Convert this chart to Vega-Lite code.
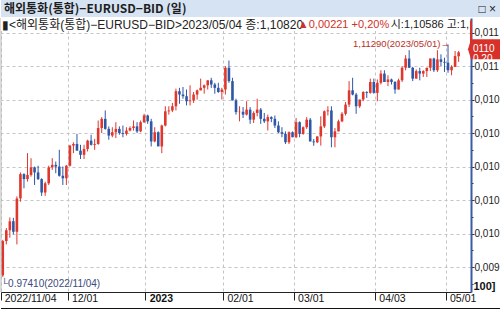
{
"$schema": "https://vega.github.io/schema/vega-lite/v6.json",
"padding": 0,
"background": "white",
"spacing": 0,
"config": {"view": {"stroke": null}, "concat": {"spacing": 0}, "axis": {"labelOverlap": false}, "font": "Liberation Sans"},
"vconcat": [
{"width": 500, "height": 17, "data": {"values": [{}]},
 "layer": [
  {"mark": {"type": "rect", "color": "#d6e3f2"},
   "encoding": {"x": {"datum": 0, "type": "quantitative", "scale": {"domain": [0, 1], "nice": false, "zero": false}, "axis": null}, "x2": {"datum": 1},
    "y": {"datum": 0, "type": "quantitative", "scale": {"domain": [0, 1], "nice": false, "zero": false}, "axis": null}, "y2": {"datum": 1}}},
  {"mark": {"type": "text", "align": "left", "baseline": "middle", "dx": 3, "font": "Noto Sans CJK KR", "fontSize": 12, "fontWeight": "bold", "color": "#1e1e1e"},
   "encoding": {"x": {"datum": 0, "type": "quantitative"}, "y": {"datum": 0.5, "type": "quantitative"}, "text": {"value": "해외통화(통합)−EURUSD−BID (일)"}}},
  {"mark": {"type": "text", "align": "right", "baseline": "middle", "dx": -5, "fontSize": 12, "color": "#222"},
   "encoding": {"x": {"datum": 1, "type": "quantitative"}, "y": {"datum": 0.5, "type": "quantitative"}, "text": {"value": "□ ×"}}}
 ]},
{
"width": 470, "height": 274,
"data": {"values": [
{"d":"2022-11-04","o":0.9750,"h":0.9962,"l":0.9741,"c":0.9955},
{"d":"2022-11-07","o":0.9955,"h":1.0033,"l":0.9935,"c":1.0020},
{"d":"2022-11-08","o":1.0020,"h":1.0096,"l":0.9975,"c":1.0073},
{"d":"2022-11-09","o":1.0073,"h":1.0094,"l":0.9995,"c":1.0010},
{"d":"2022-11-10","o":1.0010,"h":1.0222,"l":0.9935,"c":1.0210},
{"d":"2022-11-11","o":1.0210,"h":1.0365,"l":1.0190,"c":1.0355},
{"d":"2022-11-14","o":1.0355,"h":1.0360,"l":1.0270,"c":1.0325},
{"d":"2022-11-15","o":1.0325,"h":1.0480,"l":1.0310,"c":1.0350},
{"d":"2022-11-16","o":1.0350,"h":1.0450,"l":1.0340,"c":1.0395},
{"d":"2022-11-17","o":1.0395,"h":1.0400,"l":1.0290,"c":1.0365},
{"d":"2022-11-18","o":1.0365,"h":1.0405,"l":1.0320,"c":1.0325},
{"d":"2022-11-21","o":1.0325,"h":1.0330,"l":1.0225,"c":1.0245},
{"d":"2022-11-22","o":1.0245,"h":1.0310,"l":1.0225,"c":1.0300},
{"d":"2022-11-23","o":1.0300,"h":1.0405,"l":1.0290,"c":1.0395},
{"d":"2022-11-24","o":1.0395,"h":1.0450,"l":1.0380,"c":1.0410},
{"d":"2022-11-25","o":1.0410,"h":1.0430,"l":1.0360,"c":1.0400},
{"d":"2022-11-28","o":1.0400,"h":1.0500,"l":1.0340,"c":1.0345},
{"d":"2022-11-29","o":1.0345,"h":1.0400,"l":1.0290,"c":1.0330},
{"d":"2022-11-30","o":1.0330,"h":1.0410,"l":1.0290,"c":1.0405},
{"d":"2022-12-01","o":1.0405,"h":1.0530,"l":1.0400,"c":1.0525},
{"d":"2022-12-02","o":1.0525,"h":1.0545,"l":1.0480,"c":1.0535},
{"d":"2022-12-05","o":1.0535,"h":1.0595,"l":1.0495,"c":1.0495},
{"d":"2022-12-06","o":1.0495,"h":1.0530,"l":1.0445,"c":1.0470},
{"d":"2022-12-07","o":1.0470,"h":1.0530,"l":1.0445,"c":1.0505},
{"d":"2022-12-08","o":1.0505,"h":1.0560,"l":1.0490,"c":1.0555},
{"d":"2022-12-09","o":1.0555,"h":1.0590,"l":1.0525,"c":1.0530},
{"d":"2022-12-12","o":1.0530,"h":1.0565,"l":1.0500,"c":1.0535},
{"d":"2022-12-13","o":1.0535,"h":1.0675,"l":1.0530,"c":1.0630},
{"d":"2022-12-14","o":1.0630,"h":1.0695,"l":1.0600,"c":1.0685},
{"d":"2022-12-15","o":1.0685,"h":1.0735,"l":1.0620,"c":1.0625},
{"d":"2022-12-16","o":1.0625,"h":1.0640,"l":1.0560,"c":1.0585},
{"d":"2022-12-19","o":1.0585,"h":1.0635,"l":1.0575,"c":1.0605},
{"d":"2022-12-20","o":1.0605,"h":1.0665,"l":1.0570,"c":1.0625},
{"d":"2022-12-21","o":1.0625,"h":1.0640,"l":1.0590,"c":1.0600},
{"d":"2022-12-22","o":1.0600,"h":1.0645,"l":1.0575,"c":1.0595},
{"d":"2022-12-23","o":1.0595,"h":1.0635,"l":1.0585,"c":1.0615},
{"d":"2022-12-26","o":1.0615,"h":1.0640,"l":1.0610,"c":1.0630},
{"d":"2022-12-27","o":1.0630,"h":1.0675,"l":1.0615,"c":1.0640},
{"d":"2022-12-28","o":1.0640,"h":1.0665,"l":1.0600,"c":1.0610},
{"d":"2022-12-29","o":1.0610,"h":1.0675,"l":1.0605,"c":1.0665},
{"d":"2022-12-30","o":1.0665,"h":1.0715,"l":1.0660,"c":1.0705},
{"d":"2023-01-02","o":1.0705,"h":1.0710,"l":1.0655,"c":1.0670},
{"d":"2023-01-03","o":1.0670,"h":1.0685,"l":1.0520,"c":1.0550},
{"d":"2023-01-04","o":1.0550,"h":1.0635,"l":1.0545,"c":1.0605},
{"d":"2023-01-05","o":1.0605,"h":1.0610,"l":1.0525,"c":1.0520},
{"d":"2023-01-06","o":1.0520,"h":1.0650,"l":1.0480,"c":1.0645},
{"d":"2023-01-09","o":1.0645,"h":1.0760,"l":1.0640,"c":1.0730},
{"d":"2023-01-10","o":1.0730,"h":1.0760,"l":1.0710,"c":1.0735},
{"d":"2023-01-11","o":1.0735,"h":1.0780,"l":1.0725,"c":1.0760},
{"d":"2023-01-12","o":1.0760,"h":1.0865,"l":1.0735,"c":1.0850},
{"d":"2023-01-13","o":1.0850,"h":1.0870,"l":1.0775,"c":1.0830},
{"d":"2023-01-16","o":1.0830,"h":1.0875,"l":1.0805,"c":1.0820},
{"d":"2023-01-17","o":1.0820,"h":1.0860,"l":1.0765,"c":1.0790},
{"d":"2023-01-18","o":1.0790,"h":1.0885,"l":1.0765,"c":1.0795},
{"d":"2023-01-19","o":1.0795,"h":1.0845,"l":1.0780,"c":1.0830},
{"d":"2023-01-20","o":1.0830,"h":1.0860,"l":1.0800,"c":1.0855},
{"d":"2023-01-23","o":1.0855,"h":1.0925,"l":1.0855,"c":1.0870},
{"d":"2023-01-24","o":1.0870,"h":1.0890,"l":1.0835,"c":1.0885},
{"d":"2023-01-25","o":1.0885,"h":1.0915,"l":1.0860,"c":1.0915},
{"d":"2023-01-26","o":1.0915,"h":1.0930,"l":1.0870,"c":1.0890},
{"d":"2023-01-27","o":1.0890,"h":1.0900,"l":1.0835,"c":1.0870},
{"d":"2023-01-30","o":1.0870,"h":1.0900,"l":1.0840,"c":1.0845},
{"d":"2023-01-31","o":1.0845,"h":1.0870,"l":1.0800,"c":1.0860},
{"d":"2023-02-01","o":1.0860,"h":1.1000,"l":1.0830,"c":1.0990},
{"d":"2023-02-02","o":1.0990,"h":1.1033,"l":1.0900,"c":1.0910},
{"d":"2023-02-03","o":1.0910,"h":1.0930,"l":1.0795,"c":1.0795},
{"d":"2023-02-06","o":1.0795,"h":1.0805,"l":1.0710,"c":1.0725},
{"d":"2023-02-07","o":1.0725,"h":1.0760,"l":1.0670,"c":1.0727},
{"d":"2023-02-08","o":1.0727,"h":1.0755,"l":1.0690,"c":1.0710},
{"d":"2023-02-09","o":1.0710,"h":1.0790,"l":1.0705,"c":1.0740},
{"d":"2023-02-10","o":1.0740,"h":1.0755,"l":1.0655,"c":1.0680},
{"d":"2023-02-13","o":1.0680,"h":1.0730,"l":1.0660,"c":1.0720},
{"d":"2023-02-14","o":1.0720,"h":1.0805,"l":1.0700,"c":1.0740},
{"d":"2023-02-15","o":1.0740,"h":1.0750,"l":1.0655,"c":1.0685},
{"d":"2023-02-16","o":1.0685,"h":1.0720,"l":1.0660,"c":1.0670},
{"d":"2023-02-17","o":1.0670,"h":1.0710,"l":1.0615,"c":1.0695},
{"d":"2023-02-20","o":1.0695,"h":1.0700,"l":1.0665,"c":1.0685},
{"d":"2023-02-21","o":1.0685,"h":1.0705,"l":1.0630,"c":1.0645},
{"d":"2023-02-22","o":1.0645,"h":1.0670,"l":1.0600,"c":1.0605},
{"d":"2023-02-23","o":1.0605,"h":1.0635,"l":1.0575,"c":1.0595},
{"d":"2023-02-24","o":1.0595,"h":1.0610,"l":1.0535,"c":1.0545},
{"d":"2023-02-27","o":1.0545,"h":1.0610,"l":1.0535,"c":1.0605},
{"d":"2023-02-28","o":1.0605,"h":1.0610,"l":1.0575,"c":1.0575},
{"d":"2023-03-01","o":1.0575,"h":1.0690,"l":1.0570,"c":1.0665},
{"d":"2023-03-02","o":1.0665,"h":1.0670,"l":1.0575,"c":1.0595},
{"d":"2023-03-03","o":1.0595,"h":1.0640,"l":1.0590,"c":1.0635},
{"d":"2023-03-06","o":1.0635,"h":1.0695,"l":1.0625,"c":1.0680},
{"d":"2023-03-07","o":1.0680,"h":1.0690,"l":1.0550,"c":1.0550},
{"d":"2023-03-08","o":1.0550,"h":1.0565,"l":1.0524,"c":1.0545},
{"d":"2023-03-09","o":1.0545,"h":1.0580,"l":1.0540,"c":1.0580},
{"d":"2023-03-10","o":1.0580,"h":1.0700,"l":1.0525,"c":1.0640},
{"d":"2023-03-13","o":1.0640,"h":1.0735,"l":1.0630,"c":1.0730},
{"d":"2023-03-14","o":1.0730,"h":1.0760,"l":1.0705,"c":1.0735},
{"d":"2023-03-15","o":1.0735,"h":1.0760,"l":1.0515,"c":1.0575},
{"d":"2023-03-16","o":1.0575,"h":1.0630,"l":1.0515,"c":1.0610},
{"d":"2023-03-17","o":1.0610,"h":1.0680,"l":1.0610,"c":1.0670},
{"d":"2023-03-20","o":1.0670,"h":1.0725,"l":1.0665,"c":1.0715},
{"d":"2023-03-21","o":1.0715,"h":1.0785,"l":1.0705,"c":1.0770},
{"d":"2023-03-22","o":1.0770,"h":1.0910,"l":1.0755,"c":1.0855},
{"d":"2023-03-23","o":1.0855,"h":1.0930,"l":1.0825,"c":1.0830},
{"d":"2023-03-24","o":1.0830,"h":1.0840,"l":1.0715,"c":1.0760},
{"d":"2023-03-27","o":1.0760,"h":1.0800,"l":1.0750,"c":1.0800},
{"d":"2023-03-28","o":1.0800,"h":1.0850,"l":1.0790,"c":1.0845},
{"d":"2023-03-29","o":1.0845,"h":1.0850,"l":1.0810,"c":1.0840},
{"d":"2023-03-30","o":1.0840,"h":1.0925,"l":1.0835,"c":1.0905},
{"d":"2023-03-31","o":1.0905,"h":1.0925,"l":1.0835,"c":1.0840},
{"d":"2023-04-03","o":1.0840,"h":1.0920,"l":1.0790,"c":1.0900},
{"d":"2023-04-04","o":1.0900,"h":1.0975,"l":1.0890,"c":1.0955},
{"d":"2023-04-05","o":1.0955,"h":1.0975,"l":1.0905,"c":1.0905},
{"d":"2023-04-06","o":1.0905,"h":1.0945,"l":1.0880,"c":1.0920},
{"d":"2023-04-07","o":1.0920,"h":1.0925,"l":1.0890,"c":1.0905},
{"d":"2023-04-10","o":1.0905,"h":1.0910,"l":1.0835,"c":1.0860},
{"d":"2023-04-11","o":1.0860,"h":1.0925,"l":1.0860,"c":1.0915},
{"d":"2023-04-12","o":1.0915,"h":1.1000,"l":1.0905,"c":1.0990},
{"d":"2023-04-13","o":1.0990,"h":1.1065,"l":1.0975,"c":1.1045},
{"d":"2023-04-14","o":1.1045,"h":1.1095,"l":1.0990,"c":1.0990},
{"d":"2023-04-17","o":1.0990,"h":1.0995,"l":1.0910,"c":1.0925},
{"d":"2023-04-18","o":1.0925,"h":1.0980,"l":1.0925,"c":1.0970},
{"d":"2023-04-19","o":1.0970,"h":1.0990,"l":1.0915,"c":1.0955},
{"d":"2023-04-20","o":1.0955,"h":1.0975,"l":1.0935,"c":1.0970},
{"d":"2023-04-21","o":1.0970,"h":1.0990,"l":1.0935,"c":1.0990},
{"d":"2023-04-24","o":1.0990,"h":1.1045,"l":1.0970,"c":1.1045},
{"d":"2023-04-25","o":1.1045,"h":1.1050,"l":1.0965,"c":1.0975},
{"d":"2023-04-26","o":1.0975,"h":1.1095,"l":1.0965,"c":1.1040},
{"d":"2023-04-27","o":1.1040,"h":1.1070,"l":1.1000,"c":1.1025},
{"d":"2023-04-28","o":1.1025,"h":1.1050,"l":1.0965,"c":1.1020},
{"d":"2023-05-01","o":1.1020,"h":1.1129,"l":1.0960,"c":1.0975},
{"d":"2023-05-02","o":1.0975,"h":1.1005,"l":1.0945,"c":1.0995},
{"d":"2023-05-03","o":1.0995,"h":1.1090,"l":1.0995,"c":1.10599},
{"d":"2023-05-04","o":1.10586,"h":1.1090,"l":1.1025,"c":1.1082}
]},
"encoding": {
 "x": {"field": "d", "type": "ordinal",
  "scale": {"domain": {"unionWith": ["2023-05-05", "2023-05-08", "2023-05-09"]}, "paddingInner": 0, "paddingOuter": 0},
  "axis": {"title": null, "values": ["2022-11-04", "2022-12-01", "2023-01-02", "2023-02-01", "2023-03-01", "2023-04-03", "2023-05-01"],
   "bandPosition": 0,
   "labelExpr": "datum.value == '2022-11-04' ? '2022/11/04' : datum.value == '2023-01-02' ? '2023' : replace(substring(datum.value, 5), '-', '/')",
   "labelAngle": 0, "labelAlign": "left", "labelBaseline": "top", "labelPadding": -7, "labelOffset": 2,
   "labelFontSize": 10.5, "labelColor": "#111", "labelOverlap": false, "labelBound": false, "labelFlush": false,
   "labelFontWeight": {"condition": {"test": "datum.value == '2023-01-02'", "value": "bold"}, "value": "normal"},
   "tickSize": 8, "tickColor": "#222", "domainColor": "#222",
   "grid": true, "gridColor": "#c4c4c4", "gridDash": [3, 3]}}
},
"layer": [
 {"mark": {"type": "rule", "strokeWidth": 1},
  "encoding": {
   "y": {"field": "l", "type": "quantitative", "scale": {"domain": [0.9651, 1.1287], "nice": false, "zero": false},
    "axis": {"orient": "right", "title": "100]", "titleAngle": 0, "titleAlign": "left", "titleBaseline": "bottom", "titleX": 2, "titleY": 273,
     "titleFontSize": 11, "titleFontWeight": "bold", "titleColor": "#111", "titleFont": "Liberation Sans",
     "tickCount": 60,
     "values": [0.97, 0.98, 0.99, 1, 1.01, 1.02, 1.03, 1.04, 1.05, 1.06, 1.07, 1.08, 1.09, 1.1, 1.11, 1.12],
     "labelExpr": "round(datum.value * 100) % 2 == 1 ? '' : datum.value >= 1.099 ? '0,011' : datum.value >= 0.999 ? '0,010' : '0,009'",
     "labelFontSize": 10, "labelPadding": 0, "labelBaseline": "middle", "labelOverlap": false, "labelSeparation": -100, "labelBound": false, "labelFlush": false,
     "labelColor": "#222",
     "tickSize": {"condition": {"test": "round(datum.value * 100) % 2 == 1", "value": 2}, "value": 3},
     "tickColor": "#333",
     "domainColor": "#3a5ca5", "domainWidth": 2,
     "grid": true, "gridColor": "#c4c4c4", "gridDash": [3, 3],
     "gridOpacity": {"condition": {"test": "round(datum.value * 100) % 2 == 1", "value": 0}, "value": 1}}},
   "y2": {"field": "h"},
   "color": {"condition": {"test": "datum.c >= datum.o", "value": "#e0372c"}, "value": "#2d57a7"}}},
 {"mark": {"type": "bar", "width": 2.6},
  "encoding": {
   "y": {"field": "o", "type": "quantitative"},
   "y2": {"field": "c"},
   "color": {"condition": {"test": "datum.c >= datum.o", "value": "#e0372c"}, "value": "#2d57a7"}}},
 {"data": {"values": [{}]},
  "mark": {"type": "rule", "color": "#b4b4b4", "strokeWidth": 1},
  "encoding": {"x": {"datum": "2022-11-04", "type": "ordinal", "bandPosition": 0}, "y": {"datum": 0.9651, "type": "quantitative"}, "y2": {"datum": 1.1287}}},
 {"data": {"values": [{"d": "2023-05-01", "p": 1.1129, "t": "1,11290(2023/05/01)→"}]},
  "mark": {"type": "text", "align": "right", "baseline": "middle", "dx": 2, "fontSize": 9.5, "color": "#b83228"},
  "encoding": {"y": {"field": "p", "type": "quantitative"}, "text": {"field": "t"}}},
 {"data": {"values": [{"d": "2022-11-04", "p": 0.9741, "t": "└0.97410(2022/11/04)"}]},
  "mark": {"type": "text", "align": "left", "baseline": "top", "dy": 2, "fontSize": 10, "color": "#3b4a7c"},
  "encoding": {"x": {"field": "d", "type": "ordinal", "bandPosition": 0}, "y": {"field": "p", "type": "quantitative"}, "text": {"field": "t"}}},
 {"data": {"values": [{}]},
  "mark": {"type": "rect", "color": "white"},
  "encoding": {"x": {"datum": "2022-11-04", "type": "ordinal", "bandPosition": 0}, "x2": {"datum": "2023-05-09", "bandPosition": 0.5}, "y": {"datum": 1.1287, "type": "quantitative"}, "y2": {"datum": 1.1209}}},
 {"data": {"values": [{}]},
  "mark": {"type": "rule", "color": "#d8312a", "strokeWidth": 2},
  "encoding": {"x": {"datum": "2023-05-09", "type": "ordinal", "bandPosition": 1}, "y": {"datum": 1.1082, "type": "quantitative"}, "y2": {"datum": 1.1272}}},
 {"data": {"values": [{}]},
  "mark": {"type": "point", "shape": "M-0.2,-0.2L0,-0.867L2,-0.867L2,0.467L0,0.467Z", "size": 900, "filled": true, "opacity": 1, "color": "#d8312a"},
  "encoding": {"x": {"datum": "2023-05-09", "type": "ordinal", "bandPosition": 1}, "y": {"datum": 1.1082, "type": "quantitative"}}},
 {"data": {"values": [{}]},
  "mark": {"type": "text", "align": "left", "baseline": "middle", "dx": 2, "dy": -3, "fontSize": 10, "lineHeight": 10, "color": "white"},
  "encoding": {"x": {"datum": "2023-05-09", "type": "ordinal", "bandPosition": 1}, "y": {"datum": 1.1082, "type": "quantitative"}, "text": {"value": ["0110", "0,20"]}}},
 {"data": {"values": [{}]},
  "mark": {"type": "text", "align": "left", "baseline": "middle", "dx": 1, "fontSize": 12, "font": "Liberation Sans, Noto Sans CJK KR", "color": "#222"},
  "encoding": {"x": {"datum": "2022-11-04", "type": "ordinal", "bandPosition": 0}, "y": {"datum": 1.1248, "type": "quantitative"}, "text": {"value": "▮<해외통화(통합)−EURUSD−BID>2023/05/04 종:1,10820"}}},
 {"data": {"values": [{}]},
  "mark": {"type": "text", "align": "left", "baseline": "middle", "dx": 0, "fontSize": 11, "font": "Liberation Sans, Noto Sans CJK KR", "color": "#d0302a"},
  "encoding": {"x": {"datum": "2023-03-02", "type": "ordinal", "bandPosition": 0}, "y": {"datum": 1.1248, "type": "quantitative"}, "text": {"value": "▲0,00221 +0,20%"}}},
 {"data": {"values": [{}]},
  "mark": {"type": "text", "align": "left", "baseline": "middle", "dx": 1, "fontSize": 11, "font": "Liberation Sans, Noto Sans CJK KR", "color": "#222"},
  "encoding": {"x": {"datum": "2023-04-07", "type": "ordinal", "bandPosition": 0}, "y": {"datum": 1.1248, "type": "quantitative"}, "text": {"value": "시:1,10586 고:1,"}}}
]
},
{"width": 500, "height": 5, "data": {"values": [{}]},
 "mark": {"type": "rect", "color": "#111"},
 "encoding": {"x": {"datum": 0, "type": "quantitative", "scale": {"domain": [0, 1], "nice": false, "zero": false}, "axis": null}, "x2": {"datum": 1},
  "y": {"datum": 0, "type": "quantitative", "scale": {"domain": [0, 5], "nice": false, "zero": false}, "axis": null}, "y2": {"datum": 1}}}
]
}
